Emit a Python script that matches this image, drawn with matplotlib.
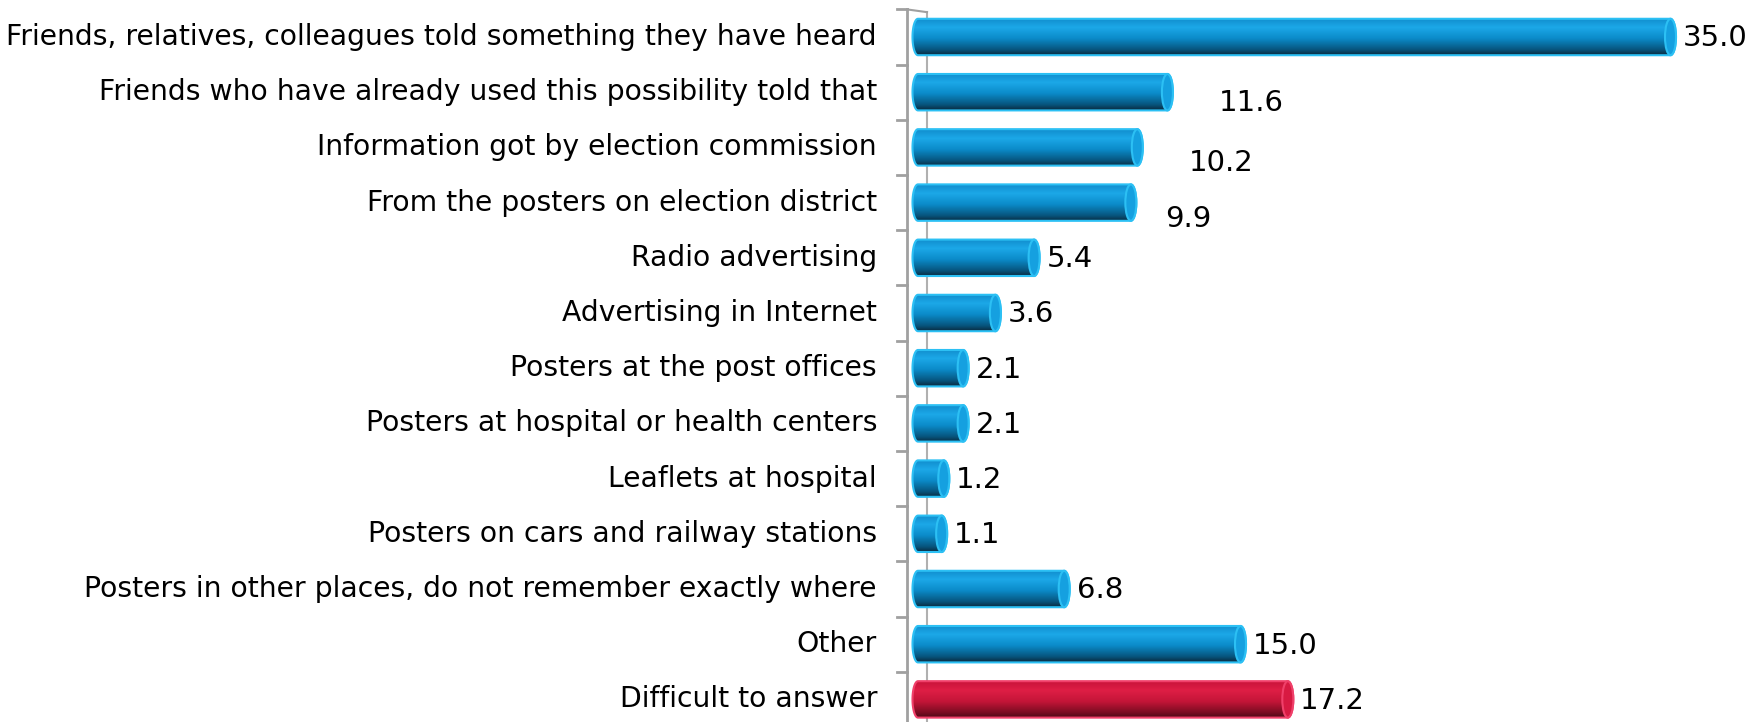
import numpy as np
import matplotlib.pyplot as plt
from matplotlib.patches import PathPatch, Ellipse
from matplotlib.path import Path
from matplotlib.colors import LinearSegmentedColormap

categories = [
    "Friends, relatives, colleagues told something they have heard",
    "Friends who have already used this possibility told that",
    "Information got by election commission",
    "From the posters on election district",
    "Radio advertising",
    "Advertising in Internet",
    "Posters at the post offices",
    "Posters at hospital or health centers",
    "Leaflets at hospital",
    "Posters on cars and railway stations",
    "Posters in other places, do not remember exactly where",
    "Other",
    "Difficult to answer",
]
values = [35.0, 11.6, 10.2, 9.9, 5.4, 3.6, 2.1, 2.1, 1.2, 1.1, 6.8, 15.0, 17.2]
highlight = "Difficult to answer"

# label offsets in points (a few labels sit away from the bar end)
label_offsets = [(0, -1), (28, -8), (28, -11), (16, -12)] + [(0, -1)] * 9

blue_cmap = LinearSegmentedColormap.from_list(
    "blue_cyl", [(0.0, "#108ccc"), (0.25, "#1ca8e8"), (0.55, "#0b8bc9"),
                 (0.85, "#07567f"), (1.0, "#0a2c42")])
red_cmap = LinearSegmentedColormap.from_list(
    "red_cyl", [(0.0, "#c8143a"), (0.25, "#de1e45"), (0.55, "#c41538"),
                (0.85, "#7c0c22"), (1.0, "#4a0714")])

W, H = 1752, 722
fig = plt.figure(figsize=(W / 100, H / 100), dpi=100)
px_per_unit = 21.5
x0_px = 918          # pixel of value 0
ax_left_px = 880
ax = fig.add_axes([ax_left_px / W, 0, 1 - ax_left_px / W, 1])
ax.set_xlim((ax_left_px - x0_px) / px_per_unit, (W - x0_px) / px_per_unit)
row_px = 55.2
top_px = 37
ax.set_ylim((H - top_px) / row_px, -top_px / row_px)
ax.axis("off")

cap_w = 11 / px_per_unit   # end ellipse width in data units
bar_h = 0.66
unit = 1 / px_per_unit

# axis wall with category ticks
n = len(categories)
ax_x = (907 - x0_px) * unit
ax.plot([ax_x, ax_x], [-0.5, n], color="#a0a0a0", lw=2, zorder=1, clip_on=False)
back_x = (927 - x0_px) * unit
ax.plot([back_x, back_x], [-0.45, n], color="#b0b0b0", lw=1.5, zorder=0)
ax.plot([ax_x, back_x], [-0.5, -0.45], color="#a0a0a0", lw=1.5, zorder=1)
for i in range(n):
    ax.plot([(897 - x0_px) * unit, ax_x], [i - 0.5, i - 0.5],
            color="#a0a0a0", lw=2, zorder=1)

t = np.linspace(np.pi / 2, 3 * np.pi / 2, 40)
grad = np.linspace(0, 1, 200).reshape(-1, 1)

for i, (cat, v) in enumerate(zip(categories, values)):
    cmap = red_cmap if cat == highlight else blue_cmap
    edge = "#f0406a" if cat == highlight else "#2cc0f4"
    cap_face = "#d81a42" if cat == highlight else "#15a0e0"
    top, bot = i - bar_h / 2, i + bar_h / 2
    # outline: left half-ellipse, bottom edge, right half-ellipse, top edge
    left = np.column_stack([cap_w / 2 * np.cos(t), i - bar_h / 2 * np.sin(t)])
    right = np.column_stack([v - cap_w / 2 * np.cos(t), i + bar_h / 2 * np.sin(t)])
    verts = np.vstack([left, right, left[:1]])
    path = Path(verts, closed=True)
    body = PathPatch(path, facecolor="none", edgecolor=edge, lw=1.5, zorder=3)
    ax.add_patch(body)
    im = ax.imshow(grad, cmap=cmap, aspect="auto", zorder=2,
                   extent=[-cap_w, v + cap_w, bot, top], interpolation="bilinear")
    im.set_clip_path(body)
    ax.add_patch(Ellipse((v, i), cap_w, bar_h, facecolor=cap_face,
                         edgecolor=edge, lw=1.5, zorder=4))

    dx, dy = label_offsets[i]
    ax.annotate(f"{v:.1f}", xy=(v + cap_w / 2, i), xytext=(5 + dx, dy),
                textcoords="offset points", ha="left", va="center",
                fontsize=21, color="black")
    ax.text((877 - x0_px) * unit, i, cat, ha="right", va="center",
            fontsize=20.3, color="black", clip_on=False)

fig.savefig("out.png", dpi=100)
